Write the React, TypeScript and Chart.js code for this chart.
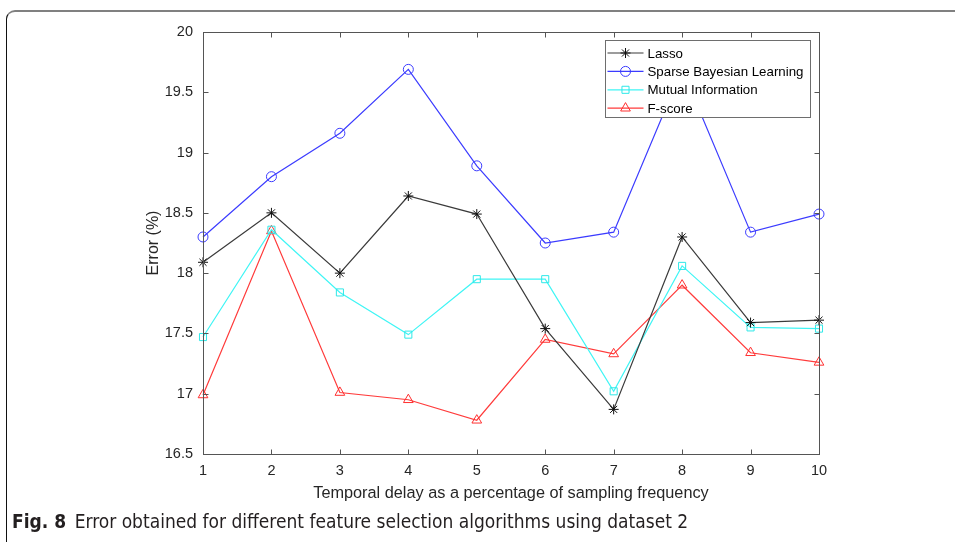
import React, { useEffect, useRef } from 'react';
import { Chart, registerables } from 'chart.js';

Chart.register(...registerables);

const xLabels = ['1', '2', '3', '4', '5', '6', '7', '8', '9', '10'];
const seriesNames = ['Lasso', 'Sparse Bayesian Learning', 'Mutual Information', 'F-score'];
const lasso = [18.09, 18.5, 18.0, 18.64, 18.49, 17.54, 16.87, 18.3, 17.59, 17.61];
const sbl = [18.3, 18.8, 19.16, 19.69, 18.89, 18.25, 18.34, 19.69, 18.34, 18.49];
const mutualInfo = [17.47, 18.36, 17.84, 17.49, 17.95, 17.95, 17.02, 18.06, 17.55, 17.54];
const fScore = [16.99, 18.35, 17.01, 16.95, 16.78, 17.45, 17.33, 17.9, 17.34, 17.26];
const yMin = 16.5;
const yMax = 20;
const yStep = 0.5;
const xTitle = 'Temporal delay as a percentage of sampling frequency';
const yTitle = 'Error (%)';

const FONT = "'Liberation Sans', Arial, Helvetica, sans-serif";
const TEXT = '#262626';
const AXIS = '#555555';

function drawMarker(ctx: CanvasRenderingContext2D, style: string, x: number, y: number, r: number) {
  ctx.beginPath();
  if (style === 'circle') {
    ctx.arc(x, y, r, 0, Math.PI * 2);
  } else if (style === 'rect') {
    const s = r * Math.SQRT1_2;
    ctx.rect(x - s, y - s, 2 * s, 2 * s);
  } else if (style === 'triangle') {
    for (let i = 0; i < 3; i++) {
      const a = -Math.PI / 2 + (i * 2 * Math.PI) / 3;
      const px = x + Math.cos(a) * r;
      const py = y + Math.sin(a) * r;
      if (i === 0) ctx.moveTo(px, py);
      else ctx.lineTo(px, py);
    }
    ctx.closePath();
  } else if (style === 'star') {
    for (let i = 0; i < 4; i++) {
      const a = (i * Math.PI) / 4;
      ctx.moveTo(x - Math.cos(a) * r, y - Math.sin(a) * r);
      ctx.lineTo(x + Math.cos(a) * r, y + Math.sin(a) * r);
    }
  }
  ctx.stroke();
}

const matlabPlugin = {
  id: 'matlabAxes',
  afterDatasetsDraw(chart: any) {
    const { ctx, chartArea } = chart;
    const l = Math.round(chartArea.left) + 0.5;
    const r = Math.round(chartArea.right) + 0.5;
    const t = Math.round(chartArea.top) + 0.5;
    const b = Math.round(chartArea.bottom) + 0.5;
    ctx.save();
    ctx.strokeStyle = AXIS;
    ctx.lineWidth = 1;
    ctx.strokeRect(l, t, r - l, b - t);
    const tl = 5;
    const ys = chart.scales.y;
    ctx.beginPath();
    ys.ticks.forEach((tk: any) => {
      const py = Math.round(ys.getPixelForValue(tk.value)) + 0.5;
      ctx.moveTo(l, py);
      ctx.lineTo(l + tl, py);
      ctx.moveTo(r, py);
      ctx.lineTo(r - tl, py);
    });
    const xs = chart.scales.x;
    xs.ticks.forEach((_tk: any, i: number) => {
      const px = Math.round(xs.getPixelForTick(i)) + 0.5;
      ctx.moveTo(px, b);
      ctx.lineTo(px, b - tl);
      ctx.moveTo(px, t);
      ctx.lineTo(px, t + tl);
    });
    ctx.stroke();
    ctx.restore();
  },
  afterDraw(chart: any) {
    const { ctx, chartArea } = chart;
    const bw = 205;
    const bh = 77;
    const bx = Math.round(chartArea.right) - 9 - bw + 0.5;
    const by = Math.round(chartArea.top) + 8 + 0.5;
    ctx.save();
    ctx.fillStyle = '#ffffff';
    ctx.fillRect(bx, by, bw, bh);
    ctx.strokeStyle = '#6e6e6e';
    ctx.lineWidth = 1;
    ctx.strokeRect(bx, by, bw, bh);
    const rowH = 18.4;
    chart.data.datasets.forEach((ds: any, i: number) => {
      const cy = by + 12.5 + i * rowH;
      ctx.strokeStyle = ds.borderColor;
      ctx.lineWidth = 1.2;
      ctx.beginPath();
      ctx.moveTo(bx + 2, cy);
      ctx.lineTo(bx + 38, cy);
      ctx.stroke();
      ctx.strokeStyle = ds.pointBorderColor;
      ctx.lineWidth = 1;
      drawMarker(ctx, ds.pointStyle, bx + 20, cy, ds.pointRadius);
      ctx.fillStyle = '#000000';
      ctx.font = `13.3px ${FONT}`;
      ctx.textBaseline = 'middle';
      ctx.textAlign = 'left';
      ctx.fillText(ds.label, bx + 42, cy + 1);
    });
    ctx.restore();
  },
};

export default function App() {
  const canvasRef = useRef<HTMLCanvasElement | null>(null);

  useEffect(() => {
    const canvas = canvasRef.current;
    if (!canvas) return;
    const mk = (label: string, data: number[], line: string, point: string, style: string, radius: number) => ({
      label,
      data,
      borderColor: line,
      borderWidth: 1.2,
      pointBorderColor: point,
      pointBackgroundColor: 'rgba(0,0,0,0)',
      pointBorderWidth: 1,
      pointStyle: style,
      pointRadius: radius,
      tension: 0,
      fill: false,
    });
    const chart = new Chart(canvas, {
      type: 'line',
      data: {
        labels: xLabels,
        datasets: [
          mk(seriesNames[0], lasso, '#3a3a3a', '#111111', 'star', 5),
          mk(seriesNames[1], sbl, '#3b3bff', '#3b3bff', 'circle', 5),
          mk(seriesNames[2], mutualInfo, '#3ff5f5', '#2ee8e8', 'rect', 5),
          mk(seriesNames[3], fScore, '#ff3b3b', '#ff3030', 'triangle', 5.6),
        ],
      },
      options: {
        animation: false,
        responsive: false,
        devicePixelRatio: 1,
        layout: { padding: { left: 144, top: 32, right: 136, bottom: 39 } },
        plugins: {
          legend: { display: false },
          tooltip: { enabled: false },
        },
        scales: {
          x: {
            type: 'category',
            offset: false,
            grid: { display: false, drawTicks: false },
            border: { display: false },
            ticks: {
              color: TEXT,
              font: { family: FONT, size: 14.5 },
              padding: 8,
              maxRotation: 0,
              autoSkip: false,
            },
            title: {
              display: true,
              text: xTitle,
              color: TEXT,
              font: { family: FONT, size: 16.3 },
              padding: { top: 0, bottom: 0 },
            },
            afterFit: (s: any) => {
              s.height = 49;
            },
          },
          y: {
            min: yMin,
            max: yMax,
            grid: { display: false, drawTicks: false },
            border: { display: false },
            ticks: {
              stepSize: yStep,
              color: TEXT,
              font: { family: FONT, size: 14.5 },
              padding: 10,
              callback: (v: any) => String(Number(v)),
            },
            title: {
              display: true,
              text: yTitle,
              color: TEXT,
              font: { family: FONT, size: 16 },
              padding: { top: 0, bottom: 0 },
            },
            afterFit: (s: any) => {
              s.width = 59;
            },
          },
        },
      },
      plugins: [matlabPlugin],
    } as any);
    return () => chart.destroy();
  }, []);

  return (
    <div style={{ position: 'fixed', left: 0, top: 0, width: 955, height: 542, background: '#fff', overflow: 'hidden' }}>
      <div
        style={{
          position: 'absolute',
          left: 6,
          top: 10,
          width: 980,
          height: 560,
          borderTop: '2px solid #808080',
          borderLeft: '1px solid #111',
          borderTopLeftRadius: 9,
          boxSizing: 'border-box',
        }}
      />
      <canvas ref={canvasRef} width={955} height={542} style={{ position: 'absolute', left: 0, top: 0 }} />
      <div
        style={{
          position: 'absolute',
          left: 12,
          top: 509,
          fontFamily: "'DejaVu Sans Condensed', 'Liberation Sans Narrow', 'Noto Sans', sans-serif",
          fontSize: 19,
          color: '#231f20',
          whiteSpace: 'nowrap',
          lineHeight: '24px',
        }}
      >
        <span style={{ fontWeight: 'bold' }}>Fig. 8</span>
        <span>{'\u2002Error obtained for different feature selection algorithms using dataset 2'}</span>
      </div>
    </div>
  );
}
